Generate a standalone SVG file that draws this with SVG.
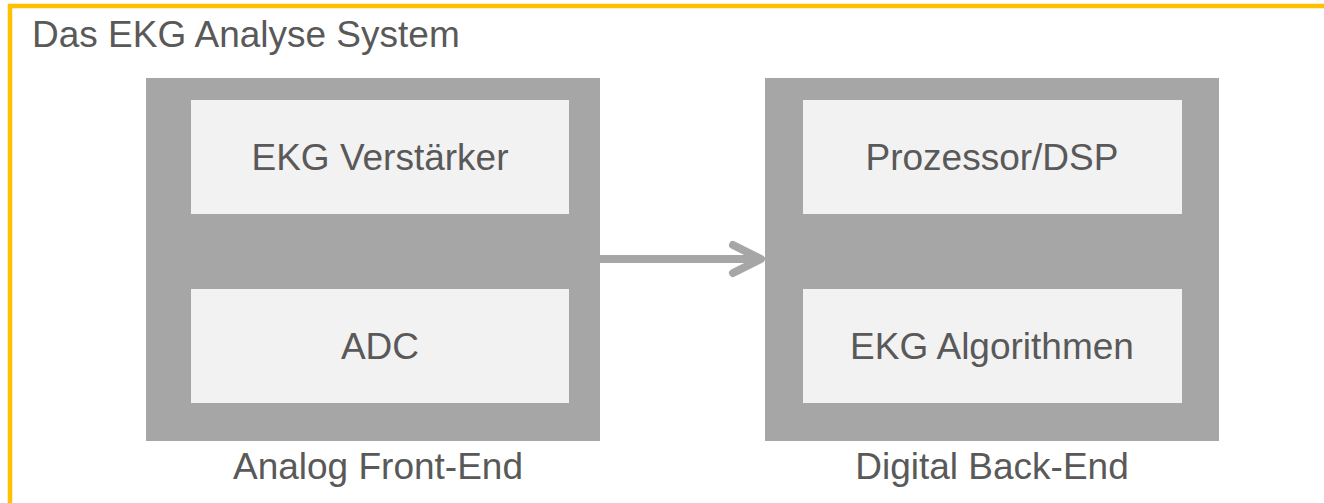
<svg xmlns="http://www.w3.org/2000/svg" width="1324" height="503" viewBox="0 0 1324 503">
<style>
.outer{fill:#A6A6A6}
.inner{fill:#F2F2F2}
.t{font-family:"Liberation Sans",Arial,sans-serif;font-size:37px;fill:#595959}
.c{text-anchor:middle}
</style>
<rect width="1324" height="503" fill="#FFFFFF"/>
<g id="frame">
<rect x="10" y="6" width="1400" height="600" fill="none" stroke="#FFC000" stroke-width="4.5"/>
<text class="t" x="32" y="47">Das EKG Analyse System</text>
</g>
<g id="analog-front-end">
<rect class="outer" x="146" y="78" width="454" height="363"/>
<text class="t c" x="378" y="479">Analog Front-End</text>
</g>
<g id="ekg-verstaerker">
<rect class="inner" x="191" y="100" width="378" height="114"/>
<text class="t c" x="380" y="170">EKG Verstärker</text>
</g>
<g id="adc">
<rect class="inner" x="191" y="289" width="378" height="114"/>
<text class="t c" x="380" y="359">ADC</text>
</g>
<g id="digital-back-end">
<rect class="outer" x="765" y="78" width="454" height="363"/>
<text class="t c" x="992" y="479">Digital Back-End</text>
</g>
<g id="prozessor">
<rect class="inner" x="803" y="100" width="379" height="114"/>
<text class="t c" x="992" y="170">Prozessor/DSP</text>
</g>
<g id="algorithmen">
<rect class="inner" x="803" y="289" width="379" height="114"/>
<text class="t c" x="992" y="359">EKG Algorithmen</text>
</g>
<g id="connectors" fill="none" stroke="#A6A6A6" stroke-width="8" stroke-linecap="round" stroke-linejoin="round">
<line x1="600" y1="259" x2="760" y2="259" stroke-linecap="butt"/>
<polyline points="733,245 761,259 733,273"/>
</g>
</svg>
